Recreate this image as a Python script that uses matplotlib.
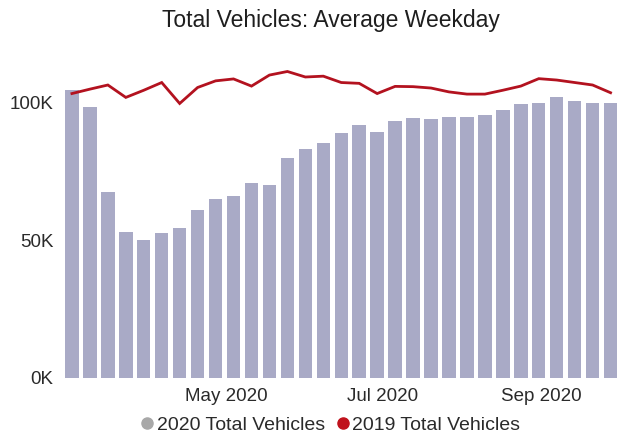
import numpy as np
import pandas as pd
import matplotlib
matplotlib.use("Agg")
import matplotlib.pyplot as plt
import matplotlib.dates as mdates
from matplotlib.lines import Line2D
from matplotlib.ticker import FuncFormatter

plt.rcParams['font.family'] = ['Liberation Sans', 'DejaVu Sans']

# weekly points, one bar per week starting Monday 2 March 2020
week_start = pd.Timestamp("2020-03-02")
n_weeks = 31
weeks = pd.date_range(week_start, periods=n_weeks, freq="7D")

# average weekday total vehicles (thousands)
vehicles_2020 = [104.3, 98.3, 67.4, 52.9, 50.0, 52.4, 54.2, 60.9, 64.9, 66.1,
                 70.8, 70.1, 79.9, 83.1, 85.2, 88.9, 91.7, 89.2, 93.1, 94.2,
                 93.7, 94.6, 94.7, 95.5, 97.1, 99.3, 99.6, 101.9, 100.5, 99.8,
                 99.8]
vehicles_2019 = [103.1, 104.7, 106.2, 101.7, 104.3, 107.1, 99.5, 105.3, 107.7, 108.4,
                 105.8, 109.8, 111.1, 109.1, 109.4, 107.1, 106.8, 103.1, 105.7, 105.6,
                 105.1, 103.7, 102.9, 102.9, 104.3, 105.8, 108.5, 108.0, 107.1, 106.2,
                 103.4]
y_ticks = [0, 50, 100]
x_ticks = ["2020-05-01", "2020-07-01", "2020-09-01"]

bar_color = "#a9aac6"
line_color = "#b3121f"

fig = plt.figure(figsize=(6.18, 4.37), dpi=100)
ax = fig.add_axes([64 / 618, 1 - 378 / 437, 554 / 618, (378 - 69) / 437])

ax.bar(weeks, vehicles_2020, width=5.25, color=bar_color, zorder=2)
ax.plot(weeks, vehicles_2019, color=line_color, lw=2.0, zorder=3,
        solid_joinstyle="miter")

ax.set_ylim(0, 112)
ax.set_xlim(week_start - pd.Timedelta(days=3.1), week_start + pd.Timedelta(days=212.9))
ax.set_yticks(y_ticks)
ax.yaxis.set_major_formatter(FuncFormatter(lambda v, p: f"{v:.0f}K"))
ax.set_xticks(pd.to_datetime(x_ticks))
ax.xaxis.set_major_formatter(mdates.DateFormatter("%b %Y"))
ax.tick_params(axis="both", length=0, labelsize=13.5, colors="#2a2a2a")
ax.tick_params(axis="y", pad=7.5)
ax.tick_params(axis="x", pad=7)
for s in ax.spines.values():
    s.set_visible(False)

fig.text(331 / 618, 1 - 21 / 437, "Total Vehicles: Average Weekday",
         ha="center", va="center", fontsize=16.5, color="#1e1e1e")

handles = [
    Line2D([], [], marker="o", ls="none", color="#a8a8a8", markersize=8),
    Line2D([], [], marker="o", ls="none", color="#c0121c", markersize=8),
]
fig.legend(handles, ["2020 Total Vehicles", "2019 Total Vehicles"],
           loc="center", bbox_to_anchor=(329 / 618, 1 - 425 / 437), ncol=2,
           frameon=False, fontsize=14, handletextpad=0.0, columnspacing=0.4,
           handlelength=1.0, labelcolor="#2a2a2a")

fig.savefig("out.png", dpi=100)
